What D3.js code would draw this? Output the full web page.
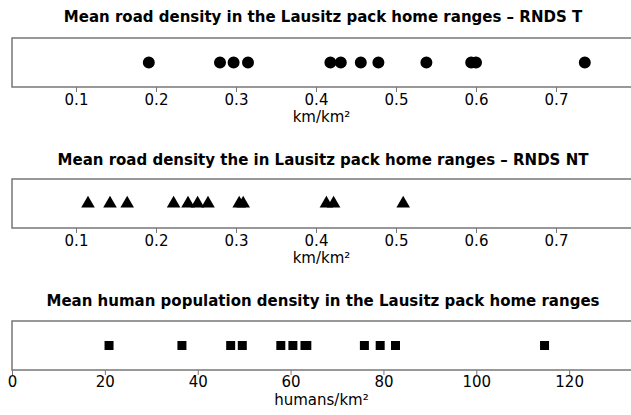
<!DOCTYPE html>
<html>
<head>
<meta charset="utf-8">
<script src="https://cdn.jsdelivr.net/npm/d3@7/dist/d3.min.js"></script>
<style>
  html, body { margin: 0; padding: 0; background: #fff; }
  svg { display: block; }
</style>
</head>
<body>
<div id="chart"></div>
<script>
// ---- Data ----
const titles = [
  "Mean road density in the Lausitz pack home ranges \u2013 RNDS T",
  "Mean road density the in Lausitz pack home ranges \u2013 RNDS NT",
  "Mean human population density in the Lausitz pack home ranges"
];
const axisLabels = ["km/km\u00B2", "km/km\u00B2", "humans/km\u00B2"];
const rndsT = [0.191, 0.280, 0.297, 0.315, 0.418, 0.431, 0.456, 0.478, 0.538, 0.594, 0.600, 0.736];
const rndsNT = [0.115, 0.1425, 0.164, 0.222, 0.240, 0.252, 0.265, 0.304, 0.309, 0.413, 0.422, 0.509];
const humanDensity = [20.9, 36.6, 47.1, 49.6, 57.9, 60.5, 63.1, 63.5, 75.9, 79.3, 82.6, 114.7];
const roadTicks = [0.1, 0.2, 0.3, 0.4, 0.5, 0.6, 0.7];
const roadTickLabels = ["0.1", "0.2", "0.3", "0.4", "0.5", "0.6", "0.7"];
const humanTicks = [0, 20, 40, 60, 80, 100, 120];
const humanTickLabels = ["0", "20", "40", "60", "80", "100", "120"];

// ---- Layout ----
const W = 631, H = 415;
const svg = d3.select("#chart").append("svg").attr("width", W).attr("height", H);

const left = 12, rightEdge = 636;
const panels = [
  { title: titles[0], label: axisLabels[0], data: rndsT, symbol: d3.symbolCircle, size: 113,
    domain: [0.02, 0.8], ticks: roadTicks, tickLabels: roadTickLabels,
    titleY: 22, boxTop: 38, boxBottom: 87, tickY: 105, labelY: 122 },
  { title: titles[1], label: axisLabels[1], data: rndsNT, symbol: d3.symbolTriangle, size: 80,
    domain: [0.02, 0.8], ticks: roadTicks, tickLabels: roadTickLabels,
    titleY: 165, boxTop: 179, boxBottom: 228, tickY: 246, labelY: 263 },
  { title: titles[2], label: axisLabels[2], data: humanDensity, symbol: d3.symbolSquare, size: 81,
    domain: [0, 134.4], ticks: humanTicks, tickLabels: humanTickLabels,
    titleY: 306, boxTop: 321, boxBottom: 370, tickY: 387, labelY: 405 }
];

const fontFam = "'DejaVu Sans', Verdana, sans-serif";
const boxColor = "#777";

panels.forEach(p => {
  const g = svg.append("g");
  const x = d3.scaleLinear().domain(p.domain).range([left, rightEdge]);

  g.append("text")
    .attr("x", 323).attr("y", p.titleY)
    .attr("text-anchor", "middle")
    .style("font-family", fontFam).style("font-weight", "bold").style("font-size", "15px")
    .attr("fill", "#000")
    .text(p.title);

  g.append("rect")
    .attr("x", left).attr("y", p.boxTop)
    .attr("width", rightEdge - left).attr("height", p.boxBottom - p.boxTop)
    .attr("fill", "none").attr("stroke", boxColor).attr("stroke-width", 1.5);

  const axis = d3.axisBottom(x).tickValues(p.ticks)
    .tickFormat((d, i) => p.tickLabels[i]).tickSize(5).tickPadding(4);
  const ag = g.append("g").attr("transform", `translate(0,${p.boxBottom})`).call(axis);
  ag.select(".domain").remove();
  ag.selectAll(".tick line").attr("stroke", boxColor).attr("stroke-width", 1);
  ag.selectAll(".tick text").remove();
  ag.selectAll(".tick").append("text")
    .attr("y", p.tickY - p.boxBottom)
    .attr("text-anchor", "middle")
    .attr("fill", "#000")
    .style("font-family", fontFam).style("font-size", "15px")
    .text((d, i) => p.tickLabels[i]);

  g.append("text")
    .attr("x", 321.5).attr("y", p.labelY)
    .attr("text-anchor", "middle")
    .style("font-family", fontFam).style("font-size", "15px")
    .attr("fill", "#000")
    .text(p.label);

  const cy = (p.boxTop + p.boxBottom) / 2;
  const sym = d3.symbol().type(p.symbol).size(p.size);
  g.selectAll("path.pt").data(p.data).enter().append("path")
    .attr("class", "pt")
    .attr("d", sym)
    .attr("transform", d => `translate(${x(d)},${cy})`)
    .attr("fill", "#000");
});
</script>
</body>
</html>
